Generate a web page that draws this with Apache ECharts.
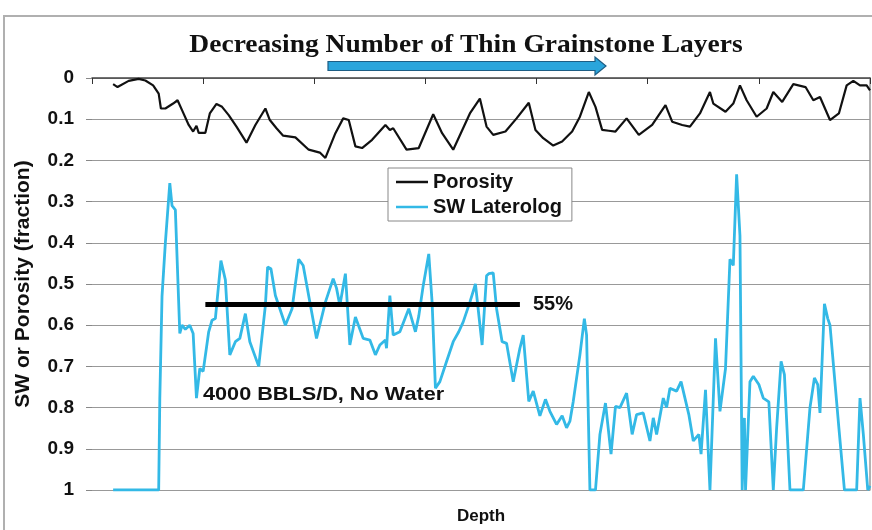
<!DOCTYPE html>
<html><head><meta charset="utf-8">
<script src="https://cdn.jsdelivr.net/npm/echarts@6/dist/echarts.min.js"></script>
<style>html,body{margin:0;padding:0;background:#fff}#c{width:872px;height:530px}</style>
</head><body><div id="c"></div>
<script>
var yTickLabels = ['0','0.1','0.2','0.3','0.4','0.5','0.6','0.7','0.8','0.9','1'];
var seriesNames = ['Porosity','SW Laterolog'];
var porosityDepth = [19,23,33,42,48,55,60,62,66,73,77,81,87,91,94,96,102,106,112,117,123,130,139,147,156,160,166,172,183,195,205,210,219,226,231,237,243,252,264,268,271,283,294,307,315,325,340,349,355,361,372,382,393,399,406,415,423,432,439,447,453,459,465,471,481,492,504,516,522,531,538,547,556,559,570,577,583,589,598,607,613,621,631,642,649,655,664,672,679,685,691,697,700];
var porosity = [0.015,0.022,0.007,0.002,0.006,0.018,0.038,0.074,0.074,0.062,0.054,0.078,0.114,0.13,0.116,0.133,0.133,0.086,0.063,0.07,0.09,0.118,0.157,0.114,0.074,0.102,0.122,0.14,0.144,0.174,0.181,0.194,0.134,0.098,0.102,0.166,0.17,0.15,0.114,0.126,0.122,0.174,0.17,0.088,0.134,0.174,0.086,0.05,0.118,0.138,0.13,0.098,0.06,0.126,0.146,0.164,0.154,0.13,0.094,0.034,0.07,0.126,0.128,0.13,0.098,0.138,0.114,0.066,0.106,0.114,0.118,0.086,0.034,0.062,0.082,0.062,0.018,0.054,0.094,0.074,0.034,0.058,0.015,0.022,0.054,0.046,0.102,0.086,0.018,0.007,0.018,0.018,0.03];
var swDepth = [19,60,61,63,66,70,72,75,79,81,84,88,91,94,97,100,105,108,111,116,120,124,129,133,138,142,150,156,158,161,165,174,180,186,190,202,210,217,220,223,228,232,237,244,250,255,259,264,265,268,271,277,285,291,294,298,303,306,309,313,319,325,330,334,340,345,351,355,357,361,364,369,373,379,385,388,393,397,403,408,412,418,423,427,430,433,439,443,445,448,453,457,462,467,471,475,481,486,490,496,502,505,508,514,517,520,526,530,537,541,546,548,552,556,561,565,570,574,577,580,583,585,587,588,592,595,600,604,609,613,616,620,623,628,640,646,650,653,655,659,662,664,672,677,688,691,694,698,700];
var sw = [1,1,0.78,0.53,0.40,0.255,0.31,0.32,0.62,0.60,0.61,0.60,0.62,0.777,0.705,0.712,0.616,0.588,0.584,0.443,0.49,0.672,0.64,0.632,0.572,0.64,0.70,0.552,0.459,0.463,0.528,0.60,0.56,0.44,0.455,0.632,0.544,0.487,0.51,0.552,0.475,0.648,0.58,0.632,0.636,0.672,0.648,0.636,0.656,0.528,0.624,0.616,0.56,0.616,0.578,0.504,0.427,0.544,0.753,0.737,0.688,0.64,0.616,0.592,0.544,0.50,0.648,0.48,0.475,0.473,0.56,0.64,0.644,0.737,0.656,0.624,0.785,0.76,0.82,0.78,0.809,0.841,0.82,0.849,0.833,0.785,0.672,0.584,0.624,1,1,0.865,0.789,0.913,0.797,0.80,0.765,0.865,0.817,0.813,0.881,0.825,0.865,0.777,0.80,0.753,0.76,0.737,0.817,0.881,0.865,0.913,0.757,1,0.632,0.809,0.705,0.44,0.455,0.234,0.383,1,0.825,1,0.737,0.724,0.744,0.777,0.786,1,0.849,0.688,0.72,1,1,0.80,0.728,0.744,0.813,0.548,0.584,0.60,0.849,1,1,0.777,0.865,1,0.99];
var cutoffDepth = [102, 385];
var cutoffValue = 0.55;
var cutoffLabel = '55%';

function zip(a, b) { return a.map(function (v, i) { return [v, b[i]]; }); }
var FONT = "'Liberation Sans', Arial, sans-serif";
var chart = echarts.init(document.getElementById('c'));
chart.setOption({
  animation: false,
  backgroundColor: '#fff',
  grid: { left: 92, right: 2, top: 78, bottom: 37, containLabel: false },
  legend: {
    data: seriesNames, orient: 'vertical', left: 388, top: 168,
    borderColor: '#888', borderWidth: 1, backgroundColor: '#fff',
    padding: [4, 10, 4, 8], itemGap: 5, itemWidth: 32, itemHeight: 2.5,
    icon: 'rect',
    textStyle: { fontFamily: FONT, fontWeight: 'bold', fontSize: 20, color: '#111' }
  },
  xAxis: {
    type: 'value', min: 0, max: 700, interval: 100,
    axisLabel: { show: false },
    axisTick: { show: true, length: 6, lineStyle: { color: '#333' } },
    axisLine: { show: true, lineStyle: { color: '#444', width: 1.5 } },
    splitLine: { show: false },
    name: 'Depth', nameLocation: 'middle', nameGap: 18,
    nameTextStyle: { fontFamily: FONT, fontWeight: 'bold', fontSize: 17, color: '#111' }
  },
  yAxis: [{
    type: 'value', inverse: true, min: 0, max: 1, interval: 0.1,
    axisLabel: { fontFamily: FONT, fontWeight: 'bold', fontSize: 19, color: '#111', margin: 18,
      formatter: function (v) { return yTickLabels[Math.round(v * 10)]; } },
    axisTick: { show: true, length: 6, lineStyle: { color: '#888' } },
    axisLine: { show: false },
    splitLine: { show: true, lineStyle: { color: '#999', width: 1 } },
    name: 'SW or Porosity (fraction)', nameLocation: 'middle', nameGap: 58, nameRotate: 90,
    nameTextStyle: { fontFamily: FONT, fontWeight: 'bold', fontSize: 21, color: '#111' }
  }, {
    type: 'value', inverse: true, min: 0, max: 1, position: 'right',
    axisLabel: { show: false }, axisTick: { show: false }, splitLine: { show: false },
    axisLine: { show: true, lineStyle: { color: '#999', width: 1.5 } }
  }],
  series: [
    { name: seriesNames[0], type: 'line', data: zip(porosityDepth, porosity), showSymbol: false, symbol: 'none',
      lineStyle: { color: '#111', width: 2.2 }, itemStyle: { color: '#111' }, z: 3 },
    { name: seriesNames[1], type: 'line', data: zip(swDepth, sw), showSymbol: false, symbol: 'none',
      lineStyle: { color: '#33b9e6', width: 2.8 }, itemStyle: { color: '#33b9e6' }, z: 2 },
    { name: 'cutoff', type: 'line', data: cutoffDepth.map(function (d) { return [d, cutoffValue]; }),
      symbol: 'none', lineStyle: { color: '#000', width: 5 }, z: 4,
      endLabel: { show: true, formatter: cutoffLabel, distance: 13,
        fontFamily: FONT, fontWeight: 'bold', fontSize: 20, color: '#111' } }
  ],
  graphic: [
    { type: 'rect', shape: { x: 4, y: 16, width: 900, height: 600 }, style: { fill: 'none', stroke: '#b0b0b0', lineWidth: 2 }, z: -1 },
    { type: 'text', x: 466, y: 46, scaleX: 1.1,
      style: { text: 'Decreasing Number of Thin Grainstone Layers', fontFamily: "'Liberation Serif', 'Times New Roman', serif",
        fontWeight: 'bold', fontSize: 25, fill: '#111', align: 'center', verticalAlign: 'middle' } },
    { type: 'polygon', shape: { points: [[328, 61.5], [595, 61.5], [595, 57], [606, 66], [595, 75], [595, 70.5], [328, 70.5]] },
      style: { fill: '#2aa5dc', stroke: '#1d5e85', lineWidth: 1.2 } },
    { type: 'text', x: 203, y: 395, scaleX: 1.14,
      style: { text: '4000 BBLS/D, No Water', fontFamily: FONT, fontWeight: 'bold', fontSize: 19, fill: '#111', align: 'left', verticalAlign: 'middle' } }
  ]
});
</script></body></html>
